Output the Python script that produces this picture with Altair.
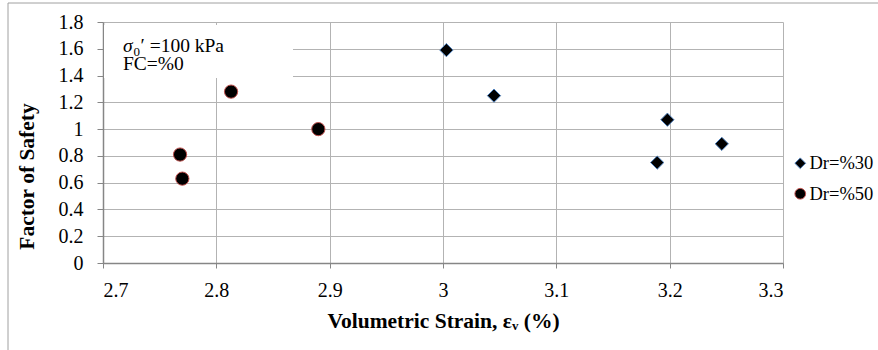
import altair as alt
import pandas as pd

series_names = ["Dr=%30", "Dr=%50"]
x_dr30 = [3.003, 3.045, 3.198, 3.246, 3.189]
y_dr30 = [1.59, 1.25, 1.07, 0.89, 0.75]
x_dr50 = [2.813, 2.768, 2.770, 2.890]
y_dr50 = [1.28, 0.81, 0.63, 1.00]

x_ticks = [2.7, 2.8, 2.9, 3.0, 3.1, 3.2, 3.3]
y_ticks = [0, 0.2, 0.4, 0.6, 0.8, 1.0, 1.2, 1.4, 1.6, 1.8]

x_title = "Volumetric Strain, εᵥ (%)"
y_title = "Factor of Safety"
note_sigma = "σ"
note_sub = "0"
note_rest = "′ =100 kPa"
note_line2 = "FC=%0"

rows = []
for xv, yv in zip(x_dr30, y_dr30):
    rows.append({"strain": xv, "fs": yv, "series": series_names[0]})
for xv, yv in zip(x_dr50, y_dr50):
    rows.append({"strain": xv, "fs": yv, "series": series_names[1]})
df = pd.DataFrame(rows)
one = pd.DataFrame({"k": [0]})

FONT = "Liberation Serif"
W, H = 680, 241

xs = alt.Scale(domain=[2.7, 3.3], nice=False, zero=False)
ys = alt.Scale(domain=[0, 1.8], nice=False)

legend_kw = dict(title=None, orient="none", legendX=688, legendY=132,
                 symbolFillColor="black", symbolSize=115, symbolStrokeWidth=1,
                 labelFont=FONT, labelFontSize=18.5, labelColor="black",
                 rowPadding=11.5, labelOffset=0, padding=0, labelLimit=200)

points = alt.Chart(df).mark_point(fill="black", fillOpacity=1, opacity=1, size=175, strokeWidth=1).encode(
    x=alt.X("strain:Q", scale=xs,
            axis=alt.Axis(values=x_ticks, format="~g", title=x_title,
                          titleY=64, titleBaseline="alphabetic")),
    y=alt.Y("fs:Q", scale=ys,
            axis=alt.Axis(values=y_ticks, format="~g", title=y_title,
                          titleAngle=270, titleX=-70, titleY=154,
                          titleBaseline="alphabetic", titleAlign="center")),
    shape=alt.Shape("series:N", scale=alt.Scale(domain=series_names, range=["diamond", "circle"]),
                    legend=alt.Legend(**legend_kw)),
    stroke=alt.Stroke("series:N", scale=alt.Scale(domain=series_names, range=["#4f81bd", "#c0504d"]),
                      legend=alt.Legend(**legend_kw)),
)

frame = alt.Chart(one).mark_rect(fill=None, stroke="#a0a0a0", strokeWidth=1).encode(
    x=alt.value(-95), x2=alt.value(900), y=alt.value(-19), y2=alt.value(400)
)

note_box = alt.Chart(one).mark_rect(fill="white", stroke=None).encode(
    x=alt.value(1), x2=alt.value(190), y=alt.value(3), y2=alt.value(56)
)

def txt(s, x, y, size=19.5, style="normal"):
    return alt.Chart(one).mark_text(text=s, font=FONT, fontSize=size, fontStyle=style,
                                    fontWeight="normal", align="left",
                                    baseline="alphabetic", color="black").encode(
        x=alt.value(x), y=alt.value(y)
    )

notes = [
    txt(note_sigma, 20, 29.7, style="italic"),
    txt(note_sub, 30.5, 34, size=13),
    txt(note_rest, 37.5, 29.7),
    txt(note_line2, 20, 48),
]

chart = alt.layer(frame, note_box, *notes, points).properties(
    width=W, height=H,
    autosize=alt.AutoSizeParams(type="none"),
    padding={"left": 103, "top": 22, "right": 95, "bottom": 87},
    background="white",
).configure_view(stroke=None).configure_axis(
    labelFont=FONT, labelFontSize=20, labelColor="black",
    titleFont=FONT, titleFontSize=21.5, titleFontWeight="bold", titleColor="black",
    gridColor="#b3b3b3", gridWidth=1,
    domainColor="#868686", domainWidth=1.5,
    tickColor="#868686",
).configure_axisX(
    tickSize=5, labelPadding=12,
).configure_axisY(
    tickSize=6, labelPadding=14,
)

chart.save("out.html", embed_options={"renderer": "svg", "actions": False})
